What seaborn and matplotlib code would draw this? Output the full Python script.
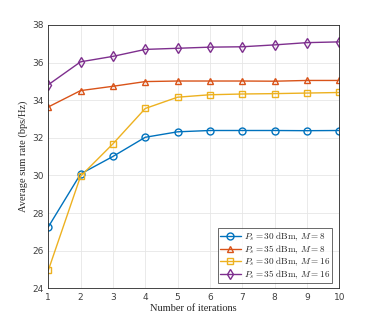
import matplotlib
matplotlib.use("Agg")
import matplotlib.pyplot as plt
import seaborn as sns
import pandas as pd

iterations = [1, 2, 3, 4, 5, 6, 7, 8, 9, 10]
rate_p30_m8 = [27.26, 30.08, 31.01, 32.03, 32.32, 32.39, 32.39, 32.39, 32.38, 32.39]
rate_p35_m8 = [33.64, 34.51, 34.74, 34.99, 35.02, 35.02, 35.02, 35.01, 35.05, 35.05]
rate_p30_m16 = [24.95, 29.96, 31.68, 33.56, 34.16, 34.29, 34.33, 34.35, 34.38, 34.41]
rate_p35_m16 = [34.82, 36.04, 36.33, 36.70, 36.76, 36.82, 36.84, 36.94, 37.06, 37.10]
labels = [r'$P_s = 30\ \mathrm{dBm},\, M = 8$',
          r'$P_s = 35\ \mathrm{dBm},\, M = 8$',
          r'$P_s = 30\ \mathrm{dBm},\, M = 16$',
          r'$P_s = 35\ \mathrm{dBm},\, M = 16$']
colors = ['#0072BD', '#D95319', '#EDB120', '#7E2F8E']
markers = ['o', '^', 's', 'd']

sns.set_style("white")
plt.rcParams['mathtext.fontset'] = 'cm'
plt.rcParams['font.family'] = ['DejaVu Sans']

fig = plt.figure(figsize=(3.74, 3.24), dpi=100)
ax = fig.add_axes([0.129, 0.110, 0.778, 0.813])

series = [rate_p30_m8, rate_p35_m8, rate_p30_m16, rate_p35_m16]
for vals, lab, c, m in zip(series, labels, colors, markers):
    df = pd.DataFrame({'x': iterations, 'y': vals})
    sns.lineplot(data=df, x='x', y='y', ax=ax, color=c, marker=m, markersize=5,
                 markerfacecolor='none', markeredgecolor=c, markeredgewidth=1.0,
                 linewidth=1.0, label=lab)

ax.set_xlim(1, 10)
ax.set_ylim(24, 38)
ax.set_xticks(iterations)
ax.set_yticks([24, 26, 28, 30, 32, 34, 36, 38])
ax.grid(True, color='#e6e6e6', linewidth=0.6)
ax.tick_params(axis='both', labelsize=6.5, colors='#404040', direction='in', length=3, width=0.5)
for s in ax.spines.values():
    s.set_color('#262626')
    s.set_linewidth(0.6)
ax.set_xlabel('Number of iterations', family='Liberation Serif', fontsize=7.5, labelpad=1)
ax.set_ylabel('Average sum rate (bps/Hz)', family='Liberation Serif', fontsize=7.5, labelpad=3)

leg = ax.legend(loc='lower right', fontsize=6.6, frameon=True, fancybox=False,
                edgecolor='#262626', borderpad=0.25, labelspacing=0.0,
                handlelength=2.3, handletextpad=0.3, borderaxespad=0.6,
                bbox_to_anchor=(0.995, 0.0))
leg.get_frame().set_linewidth(0.6)

fig.savefig('out.png', dpi=100)
